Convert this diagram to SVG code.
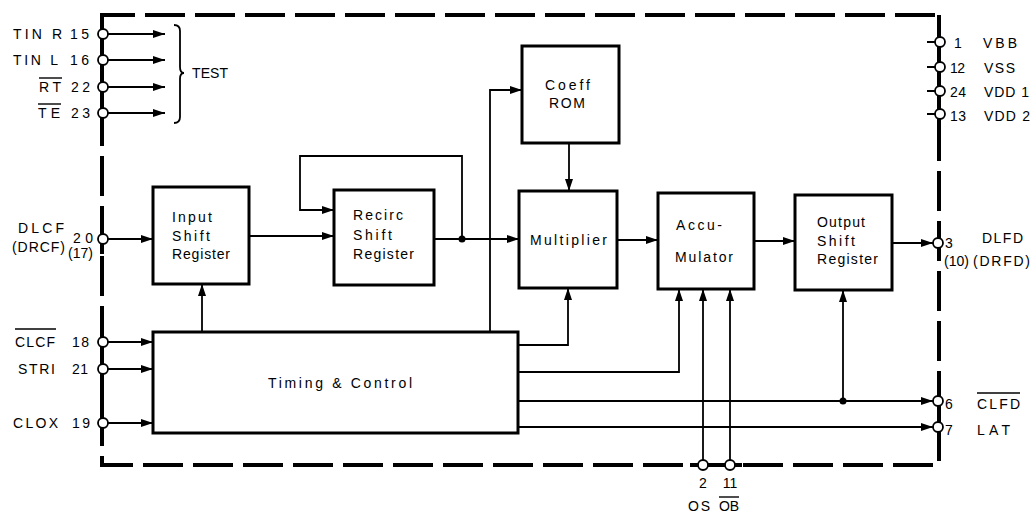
<svg xmlns="http://www.w3.org/2000/svg" width="1034" height="517" viewBox="0 0 1034 517">
<defs>
<marker id="ah" viewBox="0 0 12 8" refX="12" refY="4" markerWidth="12" markerHeight="8" markerUnits="userSpaceOnUse" orient="auto">
<path d="M0,0 L12,4 L0,8 Z" fill="#000"/>
</marker>
</defs>
<style>
.box{fill:#fff;stroke:#000;stroke-width:3}
.ln{fill:none;stroke:#000;stroke-width:1.8}
.ar{fill:none;stroke:#000;stroke-width:1.8;marker-end:url(#ah)}
.bd{fill:none;stroke:#000;stroke-width:4;stroke-dasharray:40 10}
.bs{fill:none;stroke:#000;stroke-width:4}
.pin{fill:#fff;stroke:#000;stroke-width:1.8}
.t{font-family:"Liberation Sans",Arial,sans-serif;font-size:14px;fill:#000}
.bt{font-family:"Liberation Sans",Arial,sans-serif;font-size:14px;fill:#000}
.ov{stroke:#000;stroke-width:1.4}
</style>
<rect width="1034" height="517" fill="#fff"/>

<g id="border">
<path class="bd" d="M102,22 L102,15 L939,15 L939,465 L102,465 L102,22"/>
<path class="bs" d="M102,15 L102,70 M102,77 L102,120 M102,226 L102,254 M102,328 L102,378 M102,384 L102,432 M939,15 L939,122 M939,228 L939,258 M939,392 L939,440 M690,465 L742,465"/>
</g>

<g id="connectors">
<path class="ar" d="M108,34 L165,34"/>
<path class="ar" d="M108,60 L165,60"/>
<path class="ar" d="M108,87 L165,87"/>
<path class="ar" d="M108,113 L165,113"/>
<path class="ln" d="M174,25 Q180,25 180,31 L180,67 Q180,73 184,73 Q180,73 180,79 L180,117 Q180,123 174,123"/>
<path class="ar" d="M108,239 L153,239"/>
<path class="ar" d="M249,236 L334,236"/>
<path class="ar" d="M434,239 L519,239"/>
<circle cx="462" cy="239" r="3.5" fill="#000"/>
<path class="ar" d="M462,239 L462,156 L300,156 L300,210 L334,210"/>
<path class="ar" d="M202,332 L202,284"/>
<path class="ar" d="M490,332 L490,90 L522,90"/>
<path class="ar" d="M569,143 L569,191"/>
<path class="ar" d="M518,345 L568,345 L568,288"/>
<path class="ar" d="M617,240 L658,240"/>
<path class="ar" d="M754,241 L795,241"/>
<path class="ar" d="M892,243 L933,243"/>
<path class="ar" d="M518,372 L679,372 L679,289"/>
<path class="ar" d="M703,461 L703,289"/>
<path class="ar" d="M730,461 L730,289"/>
<path class="ar" d="M518,401 L933,401"/>
<circle cx="843" cy="401" r="3.5" fill="#000"/>
<path class="ar" d="M843,401 L843,290"/>
<path class="ar" d="M518,427 L933,427"/>
<path class="ar" d="M108,342 L153,342"/>
<path class="ar" d="M108,369 L153,369"/>
<path class="ar" d="M108,423 L153,423"/>
<path class="ln" d="M927,42 L936,42 M927,67 L936,67 M927,91 L936,91 M927,114 L936,114"/>
</g>

<g id="pins">
<circle class="pin" cx="103" cy="34" r="5"/>
<circle class="pin" cx="103" cy="60" r="5"/>
<circle class="pin" cx="103" cy="87" r="5"/>
<circle class="pin" cx="103" cy="113" r="5"/>
<circle class="pin" cx="103" cy="239" r="5"/>
<circle class="pin" cx="103" cy="342" r="5"/>
<circle class="pin" cx="103" cy="369" r="5"/>
<circle class="pin" cx="103" cy="423" r="5"/>
<circle class="pin" cx="940" cy="42" r="5"/>
<circle class="pin" cx="940" cy="67" r="5"/>
<circle class="pin" cx="940" cy="91" r="5"/>
<circle class="pin" cx="940" cy="114" r="5"/>
<circle class="pin" cx="938" cy="243" r="5"/>
<circle class="pin" cx="938" cy="401" r="5"/>
<circle class="pin" cx="938" cy="427" r="5"/>
<circle class="pin" cx="703" cy="465" r="5"/>
<circle class="pin" cx="730" cy="465" r="5"/>
</g>

<g id="labels">
<text class="t" x="13" y="39" textLength="49" lengthAdjust="spacing">TIN R</text><text class="t" x="70" y="39" textLength="19" lengthAdjust="spacing">15</text>
<text class="t" x="13" y="65" textLength="45" lengthAdjust="spacing">TIN L</text><text class="t" x="70" y="65" textLength="19" lengthAdjust="spacing">16</text>
<text class="t" x="39" y="92" textLength="22" lengthAdjust="spacing">RT</text><text class="t" x="71" y="92" textLength="19" lengthAdjust="spacing">22</text>
<line class="ov" x1="39" y1="78" x2="62" y2="78"/>
<text class="t" x="38" y="118" textLength="22" lengthAdjust="spacing">TE</text><text class="t" x="71" y="118" textLength="19" lengthAdjust="spacing">23</text>
<line class="ov" x1="38" y1="104" x2="61" y2="104"/>
<text class="t" x="192" y="78" textLength="36" lengthAdjust="spacing">TEST</text>
<text class="t" x="18" y="233" textLength="46" lengthAdjust="spacing">DLCF</text>
<text class="t" x="12" y="252" textLength="53" lengthAdjust="spacing">(DRCF)</text>
<text class="t" x="73" y="243" textLength="20" lengthAdjust="spacing">20</text>
<text class="t" x="68" y="258">(17)</text>
<text class="t" x="15" y="347" textLength="40" lengthAdjust="spacing">CLCF</text><line class="ov" x1="15" y1="329" x2="56" y2="329"/>
<text class="t" x="72" y="347" textLength="17" lengthAdjust="spacing">18</text>
<text class="t" x="18" y="374" textLength="37" lengthAdjust="spacing">STRI</text><text class="t" x="72" y="374" textLength="16" lengthAdjust="spacing">21</text>
<text class="t" x="13" y="428" textLength="45" lengthAdjust="spacing">CLOX</text><text class="t" x="72" y="428" textLength="18" lengthAdjust="spacing">19</text>
<text class="t" x="954" y="48">1</text><text class="t" x="983" y="48" textLength="34" lengthAdjust="spacing">VBB</text>
<text class="t" x="950" y="73" textLength="15" lengthAdjust="spacing">12</text><text class="t" x="984" y="73" textLength="31" lengthAdjust="spacing">VSS</text>
<text class="t" x="950" y="97" textLength="16" lengthAdjust="spacing">24</text><text class="t" x="984" y="97" textLength="45" lengthAdjust="spacing">VDD 1</text>
<text class="t" x="950" y="121" textLength="16" lengthAdjust="spacing">13</text><text class="t" x="984" y="121" textLength="46" lengthAdjust="spacing">VDD 2</text>
<text class="t" x="945" y="248">3</text>
<text class="t" x="944" y="266">(10)</text>
<text class="t" x="982" y="243" textLength="41" lengthAdjust="spacing">DLFD</text>
<text class="t" x="973" y="266" textLength="57" lengthAdjust="spacing">(DRFD)</text>
<text class="t" x="945" y="409">6</text>
<text class="t" x="945" y="435">7</text>
<text class="t" x="977" y="409" textLength="43" lengthAdjust="spacing">CLFD</text><line class="ov" x1="977" y1="393" x2="1020" y2="393"/>
<text class="t" x="977" y="435" textLength="33" lengthAdjust="spacing">LAT</text>
<text class="t" x="703" y="488" text-anchor="middle">2</text>
<text class="t" x="730" y="488" text-anchor="middle">11</text>
<text class="t" x="688" y="511" textLength="22" lengthAdjust="spacing">OS</text>
<text class="t" x="719" y="511" textLength="20" lengthAdjust="spacing">OB</text><line class="ov" x1="719" y1="497" x2="739" y2="497"/>
</g>

<g id="input-shift-register">
<rect class="box" x="153" y="187" width="96" height="97"/>
<text class="bt" x="172" y="222" textLength="40" lengthAdjust="spacing">Input</text>
<text class="bt" x="172" y="241" textLength="38" lengthAdjust="spacing">Shift</text>
<text class="bt" x="172" y="259" textLength="58" lengthAdjust="spacing">Register</text>
</g>
<g id="recirc-shift-register">
<rect class="box" x="334" y="190" width="100" height="95"/>
<text class="bt" x="353" y="220" textLength="50" lengthAdjust="spacing">Recirc</text>
<text class="bt" x="353" y="240" textLength="39" lengthAdjust="spacing">Shift</text>
<text class="bt" x="353" y="259" textLength="61" lengthAdjust="spacing">Register</text>
</g>
<g id="coeff-rom">
<rect class="box" x="522" y="46" width="97" height="97"/>
<text class="bt" x="545" y="90" textLength="45" lengthAdjust="spacing">Coeff</text>
<text class="bt" x="549" y="108" textLength="36" lengthAdjust="spacing">ROM</text>
</g>
<g id="multiplier">
<rect class="box" x="519" y="191" width="98" height="97"/>
<text class="bt" x="530" y="245" textLength="77" lengthAdjust="spacing">Multiplier</text>
</g>
<g id="accumulator">
<rect class="box" x="658" y="193" width="96" height="96"/>
<text class="bt" x="676" y="230" textLength="46" lengthAdjust="spacing">Accu-</text>
<text class="bt" x="675" y="262" textLength="58" lengthAdjust="spacing">Mulator</text>
</g>
<g id="output-shift-register">
<rect class="box" x="795" y="195" width="97" height="95"/>
<text class="bt" x="817" y="227" textLength="48" lengthAdjust="spacing">Output</text>
<text class="bt" x="817" y="246" textLength="38" lengthAdjust="spacing">Shift</text>
<text class="bt" x="817" y="264" textLength="61" lengthAdjust="spacing">Register</text>
</g>
<g id="timing-control">
<rect class="box" x="153" y="332" width="365" height="101"/>
<text class="bt" x="268" y="388" textLength="144" lengthAdjust="spacing">Timing &amp; Control</text>
</g>
</svg>
